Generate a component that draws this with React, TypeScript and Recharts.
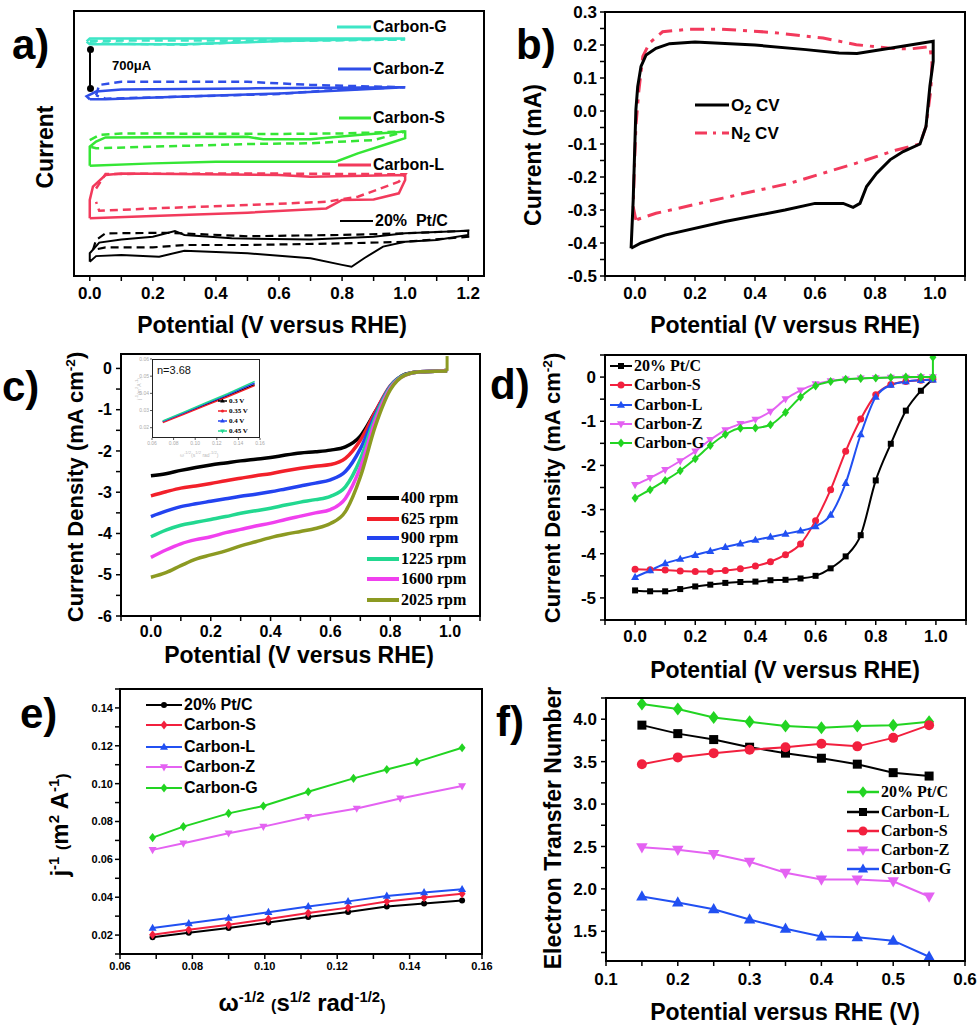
import React from 'react';
import { LineChart, Line, XAxis, YAxis } from 'recharts';

type Pt = { x: number; y: number };
const pts = (xs: number[], ys: number[]): Pt[] => xs.map((x, i) => ({ x, y: ys[i] }));

// ---------- panel a: CVs (arbitrary current, stacked) ----------
const aGx = [-0.01, 0.0, 0.5, 1.0, 0.6, 0.55, 0.3, 0.0, -0.01];
const aGy = [88.5, 89.6, 89.6, 89.6, 88.7, 88.4, 87.5, 87.5, 88.5];
const aGdx = [0.0, 0.5, 1.0, 0.55, 0.3, 0.0];
const aGdy = [88.8, 88.9, 89.2, 88.6, 87.3, 87.8];
const aZx = [0.0, -0.01, 0.02, 0.1, 0.5, 1.0, 0.6, 0.3, 0.05, 0.0];
const aZy = [66.7, 67.8, 69.6, 70.4, 70.8, 71.2, 68.9, 67.7, 66.7, 66.7];
const aZdx = [0.02, 0.03, 0.1, 0.5, 0.7, 1.0, 0.8, 0.6, 0.3, 0.05, 0.02];
const aZdy = [68.2, 72.1, 73.3, 73.3, 72.1, 71.2, 70.4, 68.7, 67.7, 66.9, 68.2];
const aSx = [0.0, 0.0, 0.02, 0.05, 0.5, 0.55, 0.7, 0.85, 1.0, 1.0, 0.95, 0.85, 0.78, 0.7, 0.4, 0.2, 0.0];
const aSy = [41.6, 48.8, 50.7, 52.3, 52.5, 51.6, 51.6, 53.2, 54.5, 52.0, 50.1, 46.3, 43.1, 43.1, 43.1, 42.5, 41.6];
const aSdx = [0.0, 0.03, 0.1, 0.6, 0.8, 1.0, 0.9, 0.7, 0.5, 0.2, 0.02, 0.0];
const aSdy = [51.3, 53.2, 53.8, 53.6, 53.8, 54.5, 51.3, 50.1, 49.8, 48.8, 48.2, 48.8];
const aLx = [0.0, 0.0, 0.01, 0.05, 0.1, 0.6, 0.7, 1.0, 1.0, 0.98, 0.9, 0.8, 0.75, 0.5, 0.2, 0.0];
const aLy = [21.8, 28.7, 33.7, 38.1, 38.7, 38.1, 37.5, 38.1, 36.2, 31.2, 28.9, 28.7, 25.5, 23.9, 22.6, 21.8];
const aLdx = [0.02, 0.05, 0.5, 1.0, 0.98, 0.85, 0.75, 0.5, 0.2, 0.03, 0.02];
const aLdy = [33.0, 38.5, 38.7, 38.4, 35.6, 29.9, 28.0, 26.8, 25.5, 24.6, 28.0];
const aPx = [0.0, 0.0, 0.03, 0.1, 0.2, 0.27, 0.3, 0.45, 0.7, 0.9, 1.0, 1.2, 1.2, 1.1, 1.0, 0.93, 0.87, 0.83, 0.8, 0.7, 0.5, 0.3, 0.22, 0.1, 0.02, 0.0];
const aPy = [5.4, 8.6, 12.6, 13.8, 14.8, 17.0, 15.5, 14.2, 13.8, 14.8, 16.1, 17.1, 15.5, 13.6, 12.9, 11.1, 6.7, 3.5, 4.2, 6.7, 8.6, 9.5, 7.3, 7.9, 7.5, 5.4];
const aPdx = [0.01, 0.02, 0.05, 0.25, 0.5, 0.8, 1.0, 1.2, 1.2, 1.0, 0.8, 0.5, 0.3, 0.2, 0.05, 0.01];
const aPdy = [9.8, 13.6, 16.1, 16.3, 15.0, 15.5, 16.1, 17.1, 14.8, 12.9, 12.3, 11.7, 11.7, 10.8, 10.8, 9.8];
const aTicksX = [0, 0.1, 0.2, 0.3, 0.4, 0.5, 0.6, 0.7, 0.8, 0.9, 1.0, 1.1, 1.2];

// ---------- panel b: O2 vs N2 CV ----------
const bO2x = [-0.013, -0.006, 0.0, 0.003, 0.009, 0.02, 0.037, 0.07, 0.115, 0.2, 0.4, 0.57, 0.68, 0.74, 0.85, 0.994, 0.994, 0.983, 0.97, 0.95, 0.894, 0.85, 0.805, 0.772, 0.75, 0.727, 0.694, 0.6, 0.5, 0.3, 0.1, 0.02, -0.013];
const bO2y = [-0.416, -0.27, -0.087, 0.004, 0.074, 0.135, 0.17, 0.19, 0.204, 0.209, 0.2, 0.186, 0.176, 0.174, 0.19, 0.211, 0.15, 0.075, -0.047, -0.1, -0.123, -0.148, -0.189, -0.229, -0.28, -0.292, -0.28, -0.28, -0.3, -0.335, -0.376, -0.4, -0.416];
const bN2x = [0.003, -0.006, -0.002, 0.003, 0.012, 0.026, 0.048, 0.092, 0.18, 0.29, 0.46, 0.627, 0.738, 0.85, 0.916, 0.983, 0.99, 0.986, 0.97, 0.95, 0.872, 0.738, 0.516, 0.293, 0.07, 0.003];
const bN2y = [-0.33, -0.29, -0.168, -0.047, 0.054, 0.165, 0.206, 0.24, 0.248, 0.248, 0.238, 0.221, 0.201, 0.19, 0.188, 0.195, 0.145, 0.064, -0.047, -0.1, -0.118, -0.158, -0.219, -0.264, -0.31, -0.33];
const bTicksX = [-0.1, 0, 0.1, 0.2, 0.3, 0.4, 0.5, 0.6, 0.7, 0.8, 0.9, 1.0, 1.1];
const bTicksY = [-0.5, -0.45, -0.4, -0.35, -0.3, -0.25, -0.2, -0.15, -0.1, -0.05, 0, 0.05, 0.1, 0.15, 0.2, 0.25, 0.3];

// ---------- panel c: LSV at rotation rates ----------
const cX = [0, 0.05, 0.1, 0.15, 0.2, 0.25, 0.3, 0.35, 0.4, 0.45, 0.5, 0.55, 0.6, 0.65, 0.7, 0.75, 0.8, 0.85, 0.9, 0.95, 0.99];
const c400 = [-2.6, -2.55, -2.47, -2.4, -2.34, -2.29, -2.24, -2.2, -2.16, -2.1, -2.05, -2.02, -1.98, -1.9, -1.64, -1.05, -0.45, -0.14, -0.08, -0.07, -0.05];
const c625 = [-3.09, -2.99, -2.9, -2.85, -2.79, -2.72, -2.66, -2.6, -2.55, -2.48, -2.42, -2.37, -2.33, -2.18, -1.74, -1.05, -0.42, -0.15, -0.08, -0.07, -0.05];
const c900 = [-3.59, -3.46, -3.35, -3.28, -3.22, -3.16, -3.1, -3.05, -2.99, -2.92, -2.85, -2.78, -2.7, -2.5, -1.95, -1.12, -0.43, -0.15, -0.08, -0.07, -0.05];
const c1225 = [-4.08, -3.92, -3.8, -3.73, -3.66, -3.59, -3.51, -3.45, -3.39, -3.31, -3.24, -3.18, -3.1, -2.87, -2.2, -1.18, -0.45, -0.15, -0.08, -0.07, -0.05];
const c1600 = [-4.58, -4.4, -4.25, -4.15, -4.08, -3.98, -3.9, -3.82, -3.75, -3.66, -3.58, -3.5, -3.42, -3.15, -2.4, -1.27, -0.48, -0.16, -0.08, -0.07, -0.05];
const c2025 = [-5.06, -4.95, -4.78, -4.62, -4.52, -4.42, -4.3, -4.2, -4.1, -4.02, -3.95, -3.88, -3.76, -3.47, -2.63, -1.4, -0.52, -0.16, -0.08, -0.07, -0.06];
const cSpikeX = [0.99, 0.99];
const cSpikeY = [-0.06, 0.3];
const cTicksY = [-6, -5.5, -5, -4.5, -4, -3.5, -3, -2.5, -2, -1.5, -1, -0.5, 0];
const insX = [0.07, 0.09, 0.11, 0.13, 0.155];
const ins03 = [0.0235, 0.0285, 0.0335, 0.0385, 0.045];
const ins035 = [0.023, 0.028, 0.033, 0.038, 0.0445];
const ins04 = [0.0237, 0.0288, 0.034, 0.0392, 0.046];
const ins045 = [0.024, 0.0292, 0.0345, 0.0398, 0.047];
const insTicksX = [0.06, 0.08, 0.1, 0.12, 0.14, 0.16];
const insTicksY = [0.02, 0.03, 0.04, 0.05, 0.06];

// ---------- panel d: LSV of catalysts ----------
const dX = [0, 0.05, 0.1, 0.15, 0.2, 0.25, 0.3, 0.35, 0.4, 0.45, 0.5, 0.55, 0.6, 0.65, 0.7, 0.75, 0.8, 0.85, 0.9, 0.95, 0.99];
const dPt = [-4.83, -4.85, -4.85, -4.8, -4.74, -4.7, -4.66, -4.64, -4.63, -4.6, -4.59, -4.56, -4.5, -4.33, -4.06, -3.58, -2.34, -1.51, -0.76, -0.31, -0.05];
const dS = [-4.35, -4.36, -4.37, -4.39, -4.4, -4.4, -4.38, -4.34, -4.28, -4.18, -4.02, -3.78, -3.25, -2.55, -1.68, -0.95, -0.4, -0.17, -0.1, -0.07, -0.05];
const dL = [-4.53, -4.38, -4.22, -4.12, -4.03, -3.94, -3.85, -3.77, -3.69, -3.62, -3.55, -3.48, -3.38, -3.12, -2.4, -1.3, -0.45, -0.18, -0.1, -0.07, -0.06];
const dZ = [-2.44, -2.28, -2.1, -1.9, -1.68, -1.42, -1.2, -1.06, -0.96, -0.78, -0.5, -0.3, -0.16, -0.09, -0.05, -0.03, -0.02, -0.01, -0.01, 0, 0];
const dG = [-2.74, -2.55, -2.34, -2.12, -1.85, -1.55, -1.3, -1.16, -1.15, -1.08, -0.8, -0.45, -0.2, -0.1, -0.05, -0.03, -0.02, -0.01, 0, 0, 0];
const dSpikeX = [0.99, 0.99];
const dSpikeY = [0, 0.45];
const dTicksY = [-5.5, -5, -4.5, -4, -3.5, -3, -2.5, -2, -1.5, -1, -0.5, 0, 0.5];

// ---------- panel e: Koutecky-Levich ----------
const eGx = [0.069, 0.0775, 0.09, 0.0996, 0.112, 0.1245, 0.1337, 0.142, 0.1545];
const eG = [0.0715, 0.0773, 0.0843, 0.0882, 0.0957, 0.1028, 0.1075, 0.1115, 0.119];
const eZx = [0.069, 0.0775, 0.09, 0.0996, 0.112, 0.1254, 0.1374, 0.1545];
const eZ = [0.065, 0.0685, 0.0738, 0.0773, 0.0825, 0.0869, 0.0922, 0.0987];
const eLowX = [0.069, 0.079, 0.09, 0.101, 0.112, 0.123, 0.1337, 0.144, 0.1545];
const eL = [0.0237, 0.0262, 0.029, 0.0321, 0.0351, 0.0378, 0.0407, 0.0425, 0.0442];
const eS = [0.0202, 0.0228, 0.0254, 0.0285, 0.0316, 0.0345, 0.0377, 0.0398, 0.0418];
const ePt = [0.0188, 0.0212, 0.0237, 0.0266, 0.0295, 0.0322, 0.0351, 0.0367, 0.0383];
const eTicksX = [0.06, 0.07, 0.08, 0.09, 0.1, 0.11, 0.12, 0.13, 0.14, 0.15, 0.16];
const eTicksY = [0.01, 0.02, 0.03, 0.04, 0.05, 0.06, 0.07, 0.08, 0.09, 0.1, 0.11, 0.12, 0.13, 0.14, 0.15];

// ---------- panel f: electron transfer number ----------
const fX = [0.15, 0.2, 0.25, 0.3, 0.35, 0.4, 0.45, 0.5, 0.55];
const fPt = [4.18, 4.12, 4.02, 3.97, 3.92, 3.9, 3.92, 3.93, 3.97];
const fL = [3.93, 3.83, 3.76, 3.67, 3.6, 3.54, 3.47, 3.37, 3.33];
const fS = [3.47, 3.55, 3.6, 3.64, 3.67, 3.71, 3.68, 3.78, 3.93];
const fZ = [2.49, 2.46, 2.41, 2.32, 2.19, 2.11, 2.11, 2.09, 1.91];
const fG = [1.91, 1.84, 1.76, 1.64, 1.53, 1.44, 1.43, 1.39, 1.2];
const fTicksX = [0.1, 0.15, 0.2, 0.25, 0.3, 0.35, 0.4, 0.45, 0.5, 0.55, 0.6];
const fTicksY = [1.25, 1.5, 1.75, 2, 2.25, 2.5, 2.75, 3, 3.25, 3.5, 3.75, 4, 4.25];

const SANS = '"Liberation Sans", Arial, sans-serif';
const SERIF = '"Liberation Serif", "Times New Roman", serif';

const major = (step: number, digits: number) => (v: number) =>
  Math.abs(v / step - Math.round(v / step)) < 1e-6 ? (Math.abs(v) < 1e-9 ? (0).toFixed(digits) : v.toFixed(digits)) : '';

type Shape = 'square' | 'circle' | 'up' | 'down' | 'diamond';

function markerPath(shape: Shape, cx: number, cy: number, s: number, color: string, key?: string) {
  if (shape === 'square') return <rect key={key} x={cx - s} y={cy - s} width={2 * s} height={2 * s} fill={color} />;
  if (shape === 'circle') return <circle key={key} cx={cx} cy={cy} r={s} fill={color} />;
  if (shape === 'up')
    return <polygon key={key} points={`${cx},${cy - s * 1.25} ${cx - s * 1.15},${cy + s * 0.8} ${cx + s * 1.15},${cy + s * 0.8}`} fill={color} />;
  if (shape === 'down')
    return <polygon key={key} points={`${cx},${cy + s * 1.25} ${cx - s * 1.15},${cy - s * 0.8} ${cx + s * 1.15},${cy - s * 0.8}`} fill={color} />;
  return <polygon key={key} points={`${cx},${cy - s * 1.3} ${cx + s},${cy} ${cx},${cy + s * 1.3} ${cx - s},${cy}`} fill={color} />;
}

const dot = (shape: Shape, color: string, s: number) => (p: any) => {
  const k = `${shape}-${p.index}`;
  if (p.cx == null || p.cy == null) return <g key={k} />;
  return markerPath(shape, p.cx, p.cy, s, color, k);
};

type Box = [number, number, number, number];

function frame(b: Box) {
  return (
    <div
      style={{
        position: 'absolute', left: b[0] - 1, top: b[1] - 1, width: b[2] - b[0] + 2, height: b[3] - b[1] + 2,
        border: '2px solid #000', boxSizing: 'border-box', pointerEvents: 'none',
      }}
    />
  );
}

const PADL = 70;
const PADT = 12;
const PADR = 18;
const XH = 40;

function chartPos(b: Box) {
  return {
    style: { position: 'absolute' as const, left: b[0] - PADL, top: b[1] - PADT },
    width: b[2] - b[0] + PADL + PADR,
    height: b[3] - b[1] + PADT + XH,
    margin: { top: PADT, right: PADR, bottom: 0, left: 0 },
  };
}

const tickStyle = (size: number) => ({ fill: '#000', fontSize: size, fontWeight: 700, fontFamily: SANS });
const tl = { stroke: '#000', strokeWidth: 1.5 };

function Title({ x, y, size, rotate, children }: { x: number; y: number; size: number; rotate?: boolean; children: React.ReactNode }) {
  return (
    <div
      style={{
        position: 'absolute', left: x, top: y, transform: `translate(-50%, -50%)${rotate ? ' rotate(-90deg)' : ''}`,
        whiteSpace: 'nowrap', fontFamily: SANS, fontWeight: 700, fontSize: size, color: '#000', lineHeight: 1,
      }}
    >
      {children}
    </div>
  );
}

const Sup = ({ children }: { children: React.ReactNode }) => (
  <span style={{ fontSize: '0.62em', position: 'relative', top: '-0.6em' }}>{children}</span>
);
const Sub = ({ children }: { children: React.ReactNode }) => (
  <span style={{ fontSize: '0.75em', position: 'relative', top: '0.3em' }}>{children}</span>
);

function Key({ x, y, w, color, label, dash, shape, font, size, ms = 3.5, lw = 3 }: {
  x: number; y: number; w: number; color: string; label: React.ReactNode; dash?: string; shape?: Shape; font: string; size: number; ms?: number; lw?: number;
}) {
  return (
    <div style={{ position: 'absolute', left: x, top: y - 10, height: 20, display: 'flex', alignItems: 'center', whiteSpace: 'nowrap' }}>
      <svg width={w} height={14} style={{ display: 'block' }}>
        <line x1={0} y1={7} x2={w} y2={7} stroke={color} strokeWidth={lw} strokeDasharray={dash} />
        {shape ? markerPath(shape, w / 2, 7, ms, color) : null}
      </svg>
      <span style={{ fontFamily: font, fontWeight: 700, fontSize: size, color: '#000', marginLeft: 2, lineHeight: 1 }}>{label}</span>
    </div>
  );
}

const PanelTag = ({ x, y, t }: { x: number; y: number; t: string }) => (
  <div style={{ position: 'absolute', left: x, top: y, fontFamily: SANS, fontWeight: 700, fontSize: 42, lineHeight: 1, color: '#000' }}>{t}</div>
);

const BA: Box = [74, 11, 484, 276];
const BB: Box = [605, 12, 965, 276];
const BC: Box = [121, 354, 480, 616];
const BD: Box = [605, 355, 966, 620];
const BE: Box = [120, 689, 482, 954];
const BF: Box = [606, 698, 965, 961];
const BI: Box = [152, 359, 260, 438];

const COL = {
  cyan: '#3de6c6', blue: '#2f4ee8', green: '#35e635', red: '#f23a5c', black: '#000',
  cRed: '#f2202a', cBlue: '#2343f0', cTeal: '#22d890', cMag: '#f040ee', cOlive: '#8c9a22',
  dRed: '#f2203e', dBlue: '#2150f2', dMag: '#e462f2', dGreen: '#22d422',
};

export default function App() {
  const pa = chartPos(BA);
  const pb = chartPos(BB);
  const pc = chartPos(BC);
  const pd = chartPos(BD);
  const pe = chartPos(BE);
  const pf = chartPos(BF);
  const line = (d: Pt[], color: string, w = 2, dash?: string, key?: string, curve: any = 'linear') => (
    <Line key={key} type={curve} data={d} dataKey="y" stroke={color} strokeWidth={w} strokeDasharray={dash} dot={false} activeDot={false} isAnimationActive={false} />
  );
  const mline = (d: Pt[], color: string, shape: Shape, s: number, key: string, curve: any = 'linear', w = 2) => (
    <Line key={key} type={curve} data={d} dataKey="y" stroke={color} strokeWidth={w} dot={dot(shape, color, s)} activeDot={false} isAnimationActive={false} />
  );
  return (
    <div style={{ position: 'absolute', left: 0, top: 0, width: 980, height: 1027, background: '#fff', overflow: 'hidden' }}>
      {/* a */}
      <div style={pa.style}>
        <LineChart width={pa.width} height={pa.height} margin={pa.margin}>
          <XAxis type="number" dataKey="x" domain={[-0.05, 1.25]} ticks={aTicksX} interval={0} tickFormatter={major(0.2, 1)} allowDataOverflow axisLine={false} tickLine={tl} tickSize={5} tickMargin={6} tick={tickStyle(17)} height={XH} />
          <YAxis type="number" domain={[0, 100]} allowDataOverflow axisLine={false} tick={false} tickLine={false} width={PADL} />
          {line(pts(aGdx, aGdy), COL.cyan, 2.5, '8 5', 'g1')}
          {line(pts(aGx, aGy), COL.cyan, 2.5, undefined, 'g2')}
          {line(pts(aZdx, aZdy), COL.blue, 2.5, '8 5', 'z1')}
          {line(pts(aZx, aZy), COL.blue, 2.5, undefined, 'z2')}
          {line(pts(aSdx, aSdy), COL.green, 2.5, '8 5', 's1')}
          {line(pts(aSx, aSy), COL.green, 2.5, undefined, 's2')}
          {line(pts(aLdx, aLdy), COL.red, 2.5, '8 5', 'l1')}
          {line(pts(aLx, aLy), COL.red, 2.5, undefined, 'l2')}
          {line(pts(aPdx, aPdy), COL.black, 2.2, '8 5', 'p1')}
          {line(pts(aPx, aPy), COL.black, 2, undefined, 'p2')}
        </LineChart>
      </div>
      {frame(BA)}
      <div style={{ position: 'absolute', left: 89, top: 48, width: 2, height: 41, background: '#000' }} />
      <div style={{ position: 'absolute', left: 86.5, top: 46, width: 7, height: 7, borderRadius: 4, background: '#000' }} />
      <div style={{ position: 'absolute', left: 86.5, top: 85, width: 7, height: 7, borderRadius: 4, background: '#000' }} />
      <div style={{ position: 'absolute', left: 112, top: 58, fontFamily: SANS, fontWeight: 700, fontSize: 13 }}>700μA</div>
      <Key x={337} y={27} w={34} color={COL.cyan} label="Carbon-G" font={SANS} size={16} />
      <Key x={338} y={69} w={33} color={COL.blue} label="Carbon-Z" font={SANS} size={16} />
      <Key x={339} y={118} w={32} color={COL.green} label="Carbon-S" font={SANS} size={16} />
      <Key x={338} y={165} w={33} color={COL.red} label="Carbon-L" font={SANS} size={16} />
      <Key x={340} y={221} w={33} color={COL.black} lw={2} label={<span>20%&nbsp;&nbsp;Pt/C</span>} font={SANS} size={16} />
      <Title x={272} y={325} size={23}>Potential (V versus RHE)</Title>
      <Title x={45} y={147} size={23} rotate>Current</Title>
      <PanelTag x={12} y={24} t="a)" />

      {/* b */}
      <div style={pb.style}>
        <LineChart width={pb.width} height={pb.height} margin={pb.margin}>
          <XAxis type="number" dataKey="x" domain={[-0.1, 1.1]} ticks={bTicksX} interval={0} tickFormatter={major(0.2, 1)} allowDataOverflow axisLine={false} tickLine={tl} tickSize={5} tickMargin={6} tick={tickStyle(17)} height={XH} />
          <YAxis type="number" domain={[-0.5, 0.3]} ticks={bTicksY} interval={0} tickFormatter={major(0.1, 1)} allowDataOverflow axisLine={false} tickLine={tl} tickSize={5} tickMargin={3} tick={tickStyle(17)} width={PADL} />
          {line(pts(bN2x, bN2y), COL.red, 3, '14 7 4 7', 'n2')}
          {line(pts(bO2x, bO2y), COL.black, 3, undefined, 'o2')}
        </LineChart>
      </div>
      {frame(BB)}
      <Key x={695} y={105} w={34} color={COL.black} label={<span>O<Sub>2</Sub> CV</span>} font={SANS} size={17} />
      <Key x={695} y={133} w={34} color={COL.red} dash="12 6 3 6" label={<span>N<Sub>2</Sub> CV</span>} font={SANS} size={17} />
      <Title x={785} y={325} size={23}>Potential (V versus RHE)</Title>
      <Title x={533} y={155} size={23} rotate>Current (mA)</Title>
      <PanelTag x={516} y={24} t="b)" />

      {/* c */}
      <div style={pc.style}>
        <LineChart width={pc.width} height={pc.height} margin={pc.margin}>
          <XAxis type="number" dataKey="x" domain={[-0.1, 1.1]} ticks={bTicksX} interval={0} tickFormatter={major(0.2, 1)} allowDataOverflow axisLine={false} tickLine={tl} tickSize={5} tickMargin={5} tick={tickStyle(16)} height={XH} />
          <YAxis type="number" domain={[-6, 0.35]} ticks={cTicksY} interval={0} tickFormatter={major(1, 0)} allowDataOverflow axisLine={false} tickLine={tl} tickSize={5} tickMargin={4} tick={tickStyle(16)} width={PADL} />
          {line(pts(cX, c400), COL.black, 3.5, undefined, 'c1', 'monotoneX')}
          {line(pts(cX, c625), COL.cRed, 3.5, undefined, 'c2', 'monotoneX')}
          {line(pts(cX, c900), COL.cBlue, 3.5, undefined, 'c3', 'monotoneX')}
          {line(pts(cX, c1225), COL.cTeal, 3.5, undefined, 'c4', 'monotoneX')}
          {line(pts(cX, c1600), COL.cMag, 3.5, undefined, 'c5', 'monotoneX')}
          {line(pts(cX, c2025), COL.cOlive, 3.5, undefined, 'c6', 'monotoneX')}
          {line(pts(cSpikeX, cSpikeY), COL.cOlive, 3, undefined, 'c7')}
        </LineChart>
      </div>
      {frame(BC)}
      {/* inset */}
      <div style={{ position: 'absolute', left: BI[0] - 16, top: BI[1] - 4 }}>
        <LineChart width={BI[2] - BI[0] + 16 + 8} height={BI[3] - BI[1] + 4 + 12} margin={{ top: 4, right: 8, bottom: 0, left: 0 }}>
          <XAxis type="number" dataKey="x" domain={[0.06, 0.16]} ticks={insTicksX} interval={0} tickFormatter={(v: number) => v.toFixed(2)} allowDataOverflow axisLine={false} tickLine={{ stroke: '#555', strokeWidth: 1 }} tickSize={2} tickMargin={1} tick={{ fill: '#aaa', fontSize: 5, fontFamily: SANS }} height={12} />
          <YAxis type="number" domain={[0.014, 0.06]} ticks={insTicksY} interval={0} tickFormatter={(v: number) => v.toFixed(2)} allowDataOverflow axisLine={false} tickLine={{ stroke: '#555', strokeWidth: 1 }} tickSize={2} tickMargin={1} tick={{ fill: '#aaa', fontSize: 5, fontFamily: SANS }} width={16} />
          {line(pts(insX, ins03), COL.black, 1.5, undefined, 'i1')}
          {line(pts(insX, ins035), COL.cRed, 1.5, undefined, 'i2')}
          {line(pts(insX, ins04), COL.cBlue, 1.5, undefined, 'i3')}
          {line(pts(insX, ins045), COL.cTeal, 1.5, undefined, 'i4')}
        </LineChart>
      </div>
      <div style={{ position: 'absolute', left: BI[0], top: BI[1], width: BI[2] - BI[0], height: BI[3] - BI[1], border: '1.5px solid #222', boxSizing: 'border-box' }} />
      <div style={{ position: 'absolute', left: 157, top: 364, fontFamily: SANS, fontSize: 11, color: '#111' }}>n=3.68</div>
      <div style={{ position: 'absolute', left: 127, top: 385, transform: 'rotate(-90deg)', fontFamily: SANS, fontSize: 5, color: '#bbb', whiteSpace: 'nowrap' }}>j<sup>-1</sup>(m<sup>2</sup>A<sup>-1</sup>)</div>
      <div style={{ position: 'absolute', left: 180, top: 450, fontFamily: SANS, fontSize: 5, color: '#bbb', whiteSpace: 'nowrap' }}>ω<sup>-1/2</sup>(s<sup>1/2</sup> rad<sup>-1/2</sup>)</div>
      <Key x={218} y={401} w={9} color={COL.black} lw={1.5} shape="up" ms={2} label="0.3 V" font={SERIF} size={7} />
      <Key x={218} y={411} w={9} color={COL.cRed} lw={1.5} shape="circle" ms={1.5} label="0.35 V" font={SERIF} size={7} />
      <Key x={218} y={421} w={9} color={COL.cBlue} lw={1.5} shape="up" ms={2} label="0.4 V" font={SERIF} size={7} />
      <Key x={218} y={431} w={9} color={COL.cTeal} lw={1.5} shape="down" ms={2} label="0.45 V" font={SERIF} size={7} />
      <Key x={367} y={498} w={32} color={COL.black} lw={4} label="400 rpm" font={SERIF} size={16} />
      <Key x={367} y={519} w={32} color={COL.cRed} lw={4} label="625 rpm" font={SERIF} size={16} />
      <Key x={367} y={538} w={32} color={COL.cBlue} lw={4} label="900 rpm" font={SERIF} size={16} />
      <Key x={367} y={559} w={32} color={COL.cTeal} lw={4} label="1225 rpm" font={SERIF} size={16} />
      <Key x={367} y={579} w={32} color={COL.cMag} lw={4} label="1600 rpm" font={SERIF} size={16} />
      <Key x={367} y={600} w={32} color={COL.cOlive} lw={4} label="2025 rpm" font={SERIF} size={16} />
      <Title x={299} y={655} size={23}>Potential (V versus RHE)</Title>
      <Title x={76} y={487} size={22} rotate>Current Density (mA cm<Sup>-2</Sup>)</Title>
      <PanelTag x={2} y={366} t="c)" />

      {/* d */}
      <div style={pd.style}>
        <LineChart width={pd.width} height={pd.height} margin={pd.margin}>
          <XAxis type="number" dataKey="x" domain={[-0.1, 1.1]} ticks={bTicksX} interval={0} tickFormatter={major(0.2, 1)} allowDataOverflow axisLine={false} tickLine={tl} tickSize={5} tickMargin={5} tick={tickStyle(17)} height={XH} />
          <YAxis type="number" domain={[-5.5, 0.5]} ticks={dTicksY} interval={0} tickFormatter={major(1, 0)} allowDataOverflow axisLine={false} tickLine={tl} tickSize={5} tickMargin={4} tick={tickStyle(17)} width={PADL} />
          {mline(pts(dX, dPt), COL.black, 'square', 3, 'd1', 'monotoneX')}
          {mline(pts(dX, dS), COL.dRed, 'circle', 3.5, 'd2', 'monotoneX')}
          {mline(pts(dX, dL), COL.dBlue, 'up', 3.5, 'd3', 'monotoneX')}
          {mline(pts(dX, dZ), COL.dMag, 'down', 3.5, 'd4', 'monotoneX')}
          {mline(pts(dX, dG), COL.dGreen, 'diamond', 3.5, 'd5', 'monotoneX')}
          {mline(pts(dSpikeX, dSpikeY), COL.dGreen, 'diamond', 3.5, 'd6')}
        </LineChart>
      </div>
      {frame(BD)}
      <Key x={610} y={366} w={22} color={COL.black} lw={2} shape="square" ms={3} label="20% Pt/C" font={SERIF} size={16} />
      <Key x={610} y={385} w={22} color={COL.dRed} lw={2} shape="circle" ms={3.5} label="Carbon-S" font={SERIF} size={16} />
      <Key x={610} y={405} w={22} color={COL.dBlue} lw={2} shape="up" ms={3.5} label="Carbon-L" font={SERIF} size={16} />
      <Key x={610} y={424} w={22} color={COL.dMag} lw={2} shape="down" ms={3.5} label="Carbon-Z" font={SERIF} size={16} />
      <Key x={610} y={443} w={22} color={COL.dGreen} lw={2} shape="diamond" ms={3.5} label="Carbon-G" font={SERIF} size={16} />
      <Title x={785} y={670} size={23}>Potential (V versus RHE)</Title>
      <Title x={553} y={488} size={22} rotate>Current Density (mA cm<Sup>-2</Sup>)</Title>
      <PanelTag x={490} y={364} t="d)" />

      {/* e */}
      <div style={pe.style}>
        <LineChart width={pe.width} height={pe.height} margin={pe.margin}>
          <XAxis type="number" dataKey="x" domain={[0.06, 0.16]} ticks={eTicksX} interval={0} tickFormatter={major(0.02, 2)} allowDataOverflow axisLine={false} tickLine={tl} tickSize={5} tickMargin={3} tick={tickStyle(11)} height={XH} />
          <YAxis type="number" domain={[0.01, 0.15]} ticks={eTicksY} interval={0} tickFormatter={major(0.02, 2)} allowDataOverflow axisLine={false} tickLine={tl} tickSize={5} tickMargin={2} tick={tickStyle(11)} width={PADL} />
          {mline(pts(eLowX, ePt), COL.black, 'circle', 3, 'e1')}
          {mline(pts(eLowX, eS), COL.dRed, 'diamond', 3.5, 'e2')}
          {mline(pts(eLowX, eL), COL.dBlue, 'up', 3.5, 'e3')}
          {mline(pts(eZx, eZ), COL.dMag, 'down', 3.5, 'e4')}
          {mline(pts(eGx, eG), COL.dGreen, 'diamond', 3.5, 'e5')}
        </LineChart>
      </div>
      {frame(BE)}
      <Key x={146} y={705} w={36} color={COL.black} lw={2} shape="circle" ms={3} label="20% Pt/C" font={SANS} size={16} />
      <Key x={146} y={725} w={36} color={COL.dRed} lw={2} shape="diamond" ms={3.5} label="Carbon-S" font={SANS} size={16} />
      <Key x={146} y={747} w={36} color={COL.dBlue} lw={2} shape="up" ms={3.5} label="Carbon-L" font={SANS} size={16} />
      <Key x={146} y={767} w={36} color={COL.dMag} lw={2} shape="down" ms={3.5} label="Carbon-Z" font={SANS} size={16} />
      <Key x={146} y={788} w={36} color={COL.dGreen} lw={2} shape="diamond" ms={3.5} label="Carbon-G" font={SANS} size={16} />
      <Title x={302} y={1003} size={24}>ω<Sup>-1/2</Sup> <span style={{ fontSize: 16 }}>(</span>s<Sup>1/2</Sup> rad<Sup>-1/2</Sup><span style={{ fontSize: 16 }}>)</span></Title>
      <Title x={60} y={825} size={24} rotate>j<Sup>-1</Sup> <span style={{ fontSize: 16 }}>(</span>m<Sup>2</Sup> A<Sup>-1</Sup><span style={{ fontSize: 16 }}>)</span></Title>
      <PanelTag x={20} y={693} t="e)" />

      {/* f */}
      <div style={pf.style}>
        <LineChart width={pf.width} height={pf.height} margin={pf.margin}>
          <XAxis type="number" dataKey="x" domain={[0.1, 0.6]} ticks={fTicksX} interval={0} tickFormatter={major(0.1, 1)} allowDataOverflow axisLine={false} tickLine={tl} tickSize={5} tickMargin={7} tick={tickStyle(17)} height={XH} />
          <YAxis type="number" domain={[1.15, 4.25]} ticks={fTicksY} interval={0} tickFormatter={major(0.5, 1)} allowDataOverflow axisLine={false} tickLine={tl} tickSize={5} tickMargin={4} tick={tickStyle(17)} width={PADL} />
          {mline(pts(fX, fPt), COL.dGreen, 'diamond', 5, 'f1')}
          {mline(pts(fX, fL), COL.black, 'square', 4.5, 'f2')}
          {mline(pts(fX, fS), COL.dRed, 'circle', 5, 'f3')}
          {mline(pts(fX, fZ), COL.dMag, 'down', 5, 'f4')}
          {mline(pts(fX, fG), COL.dBlue, 'up', 5, 'f5')}
        </LineChart>
      </div>
      {frame(BF)}
      <Key x={847} y={792} w={32} color={COL.dGreen} lw={2.5} shape="diamond" ms={4.5} label="20% Pt/C" font={SERIF} size={16} />
      <Key x={847} y={812} w={32} color={COL.black} lw={2.5} shape="square" ms={4} label="Carbon-L" font={SERIF} size={16} />
      <Key x={847} y={831} w={32} color={COL.dRed} lw={2.5} shape="circle" ms={4.5} label="Carbon-S" font={SERIF} size={16} />
      <Key x={847} y={850} w={32} color={COL.dMag} lw={2.5} shape="down" ms={4.5} label="Carbon-Z" font={SERIF} size={16} />
      <Key x={847} y={869} w={32} color={COL.dBlue} lw={2.5} shape="up" ms={4.5} label="Carbon-G" font={SERIF} size={16} />
      <Title x={785} y={1012} size={23}>Potential versus RHE (V)</Title>
      <Title x={553} y={828} size={23} rotate>Electron Transfer Number</Title>
      <PanelTag x={496} y={701} t="f)" />
    </div>
  );
}
